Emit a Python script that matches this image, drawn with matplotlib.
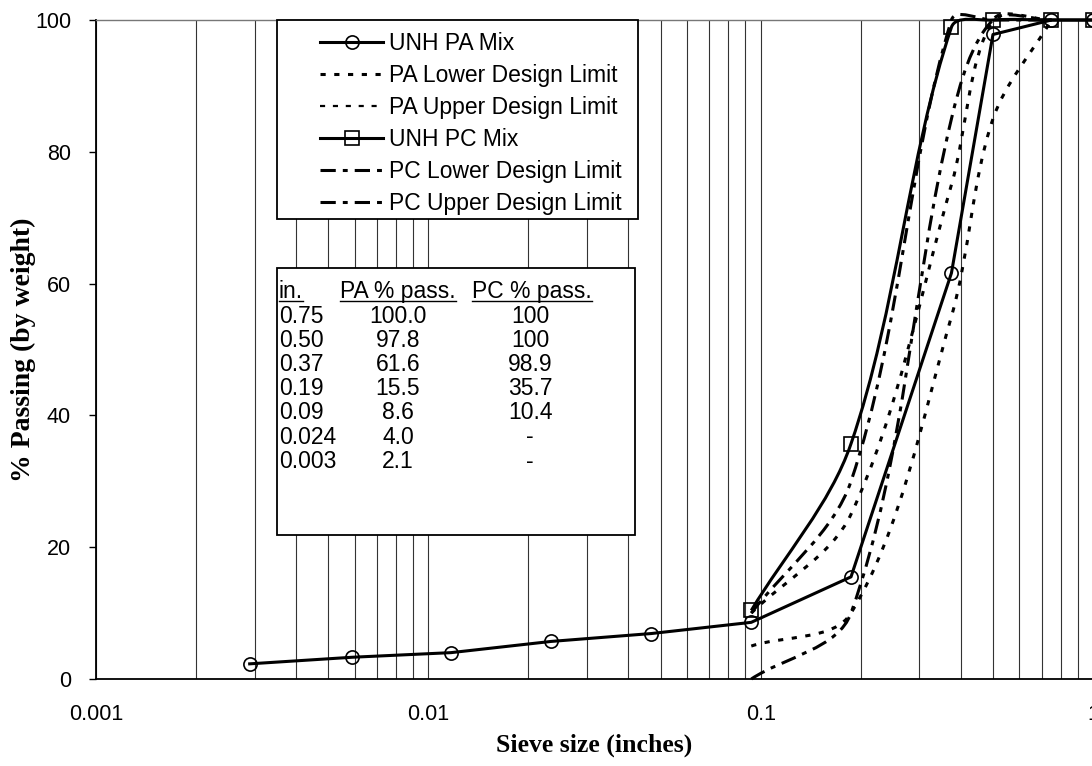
import numpy as np
import matplotlib
matplotlib.use('Agg')
from matplotlib import pyplot as plt
from matplotlib.path import Path
from matplotlib.patches import PathPatch, Rectangle
from matplotlib.lines import Line2D
from matplotlib.ticker import LogLocator, NullFormatter, FixedLocator, FixedFormatter

plt.rcParams['font.family'] = ['Liberation Sans', 'DejaVu Sans']

# gradation data (sieve size in inches, % passing)
pa_sizes = [0.0029, 0.0059, 0.0117, 0.0234, 0.0469, 0.0937, 0.187, 0.375, 0.5, 0.75, 1.0]
pa_pass = [2.3, 3.3, 4.0, 5.7, 6.9, 8.6, 15.5, 61.6, 97.8, 100, 100]

pc_sizes = [0.0937, 0.187, 0.375, 0.5, 0.75, 1.0]
pc_pass = [10.4, 35.7, 98.9, 100, 100, 100]

lim_sizes = [0.0937, 0.187, 0.375, 0.5, 0.75]
pa_lower = [5, 10, 55, 85, 100]
pa_upper = [10, 25, 75, 100, 100]
pc_lower = [0, 10, 85, 100, 100]
pc_upper = [10, 30, 100, 100, 100]

x_ticks = [0.001, 0.01, 0.1, 1]
x_ticklabels = ['0.001', '0.01', '0.1', '1']
y_ticks = [0, 20, 40, 60, 80, 100]

legend_labels = ['UNH PA Mix', 'PA Lower Design Limit', 'PA Upper Design Limit',
                 'UNH PC Mix', 'PC Lower Design Limit', 'PC Upper Design Limit']

table_header = ['in.', 'PA % pass.', 'PC % pass.']
table_in = ['0.75', '0.50', '0.37', '0.19', '0.09', '0.024', '0.003']
table_pa = ['100.0', '97.8', '61.6', '15.5', '8.6', '4.0', '2.1']
table_pc = ['100', '100', '98.9', '35.7', '10.4', '-', '-']

W, H = 1092, 766
AX_L, AX_T, AX_W, AX_H = 96, 20, 997, 659

def fx(p):
    return p / W
def fy(p):
    return 1 - p / H

# excel-like smoothed line: bezier with chord-length scaled tangents,
# worked out in screen units so short segments don't overshoot
def smooth_path(xs, ys):
    sx = AX_W / 3.0
    sy = AX_H / 100.0
    p = np.column_stack([np.log10(xs) * sx, np.asarray(ys, float) * sy])
    n = len(p)
    seg = np.hypot(*np.diff(p, axis=0).T)
    verts = [p[0]]
    codes = [Path.MOVETO]
    for i in range(n - 1):
        if i == 0:
            c1 = p[i] + (p[i + 1] - p[i]) / 3
        else:
            d = p[i + 1] - p[i - 1]
            c1 = p[i] + d * seg[i] / (seg[i] + seg[i - 1]) / 3
        if i + 2 >= n:
            c2 = p[i + 1] - (p[i + 1] - p[i]) / 3
        else:
            d = p[i + 2] - p[i]
            c2 = p[i + 1] - d * seg[i] / (seg[i] + seg[i + 1]) / 3
        verts += [c1, c2, p[i + 1]]
        codes += [Path.CURVE4] * 3
    verts = np.array(verts)
    verts[:, 0] = 10 ** (verts[:, 0] / sx)
    verts[:, 1] = verts[:, 1] / sy
    return Path(verts, codes)

LW = 2.2
pa_lim_ls = (0, (1.7, 2.8))
pc_lim_ls = (0, (5, 2.3, 1.6, 2.3))

fig = plt.figure(figsize=(W / 100, H / 100), dpi=100)
ax = fig.add_axes([fx(AX_L), 1 - (AX_T + AX_H) / H, fx(AX_W), AX_H / H])
ax.set_xscale('log')
ax.set_xlim(0.001, 1)
ax.set_ylim(0, 100)

# limits
for ys, ls in [(pa_lower, pa_lim_ls), (pa_upper, pa_lim_ls), (pc_lower, pc_lim_ls), (pc_upper, pc_lim_ls)]:
    ax.add_patch(PathPatch(smooth_path(lim_sizes, ys), fill=False, edgecolor='black',
                           lw=LW, linestyle=ls, clip_on=False, zorder=3))

# mixes
ax.plot(pa_sizes, pa_pass, color='black', lw=LW, marker='o', ms=9.5, mfc='none',
        mew=1.2, mec='black', zorder=4, clip_on=False)
ax.add_patch(PathPatch(smooth_path(pc_sizes, pc_pass), fill=False, edgecolor='black',
                       lw=LW, clip_on=False, zorder=4))
ax.plot(pc_sizes, pc_pass, linestyle='none', marker='s', ms=10, mfc='none',
        mew=1.2, mec='black', zorder=5, clip_on=False)

# axes styling
ax.xaxis.set_major_locator(FixedLocator(x_ticks))
ax.xaxis.set_major_formatter(FixedFormatter(x_ticklabels))
ax.xaxis.set_minor_locator(LogLocator(base=10, subs=np.arange(2, 10)))
ax.xaxis.set_minor_formatter(NullFormatter())
ax.grid(True, which='both', axis='x', color='#333333', lw=0.8)
ax.set_yticks(y_ticks)
ax.tick_params(axis='x', which='both', length=0, pad=18, labelsize=15.5)
ax.tick_params(axis='y', length=5, width=1, direction='out', pad=13, labelsize=15.5)
for s in ['left', 'bottom']:
    ax.spines[s].set_linewidth(1.3)
ax.spines['top'].set_color('#777777')
ax.spines['top'].set_linewidth(1)

ax.set_xlabel('Sieve size (inches)', family='Liberation Serif', fontweight='bold', fontsize=18.5)
ax.xaxis.set_label_coords(0.5, -0.083)
ax.set_ylabel('% Passing (by weight)', family='Liberation Serif', fontweight='bold', fontsize=20)
ax.yaxis.set_label_coords(-0.06, 0.5)

# legend box
fig.add_artist(Rectangle((fx(277), fy(219)), fx(638 - 277), (219 - 20) / H,
                         transform=fig.transFigure, facecolor='white', edgecolor='black',
                         lw=1.3, zorder=2))
handles = [
    Line2D([], [], color='black', lw=LW, marker='o', ms=9.5, mfc='none', mew=1.2),
    Line2D([], [], color='black', lw=LW, linestyle=pa_lim_ls),
    Line2D([], [], color='black', lw=1.6, linestyle=(0, (2.3, 3.5))),
    Line2D([], [], color='black', lw=LW, marker='s', ms=10, mfc='none', mew=1.2),
    Line2D([], [], color='black', lw=LW, linestyle=pc_lim_ls),
    Line2D([], [], color='black', lw=LW, linestyle=pc_lim_ls),
]
fig.legend(handles, legend_labels, loc='upper left', bbox_to_anchor=(fx(320), fy(32)),
           bbox_transform=fig.transFigure, frameon=False, borderpad=0, borderaxespad=0,
           handlelength=2.75, handletextpad=0.25, labelspacing=0.39, fontsize=16.5)

# table box
fig.add_artist(Rectangle((fx(277), fy(535)), fx(635 - 277), (535 - 268) / H,
                         transform=fig.transFigure, facecolor='white', edgecolor='black',
                         lw=1.3, zorder=2))
hdr = []
hdr.append(fig.text(fx(279), fy(291), table_header[0], ha='left', va='center', fontsize=16.5, zorder=6))
hdr.append(fig.text(fx(398), fy(291), table_header[1], ha='center', va='center', fontsize=16.5, zorder=6))
hdr.append(fig.text(fx(532), fy(291), table_header[2], ha='center', va='center', fontsize=16.5, zorder=6))
for i in range(len(table_in)):
    yy = fy(316 + 24.2 * i)
    fig.text(fx(279), yy, table_in[i], ha='left', va='center', fontsize=16.5, zorder=6)
    fig.text(fx(398), yy, table_pa[i], ha='center', va='center', fontsize=16.5, zorder=6)
    fig.text(fx(530), yy, table_pc[i], ha='center', va='center', fontsize=16.5, zorder=6)

fig.canvas.draw()
r = fig.canvas.get_renderer()
for t in hdr:
    bb = t.get_window_extent(r)
    fig.add_artist(Line2D([bb.x0 / W, bb.x1 / W], [fy(301), fy(301)], color='black',
                          lw=1.0, transform=fig.transFigure, zorder=6))

fig.savefig('out.png', dpi=100)
